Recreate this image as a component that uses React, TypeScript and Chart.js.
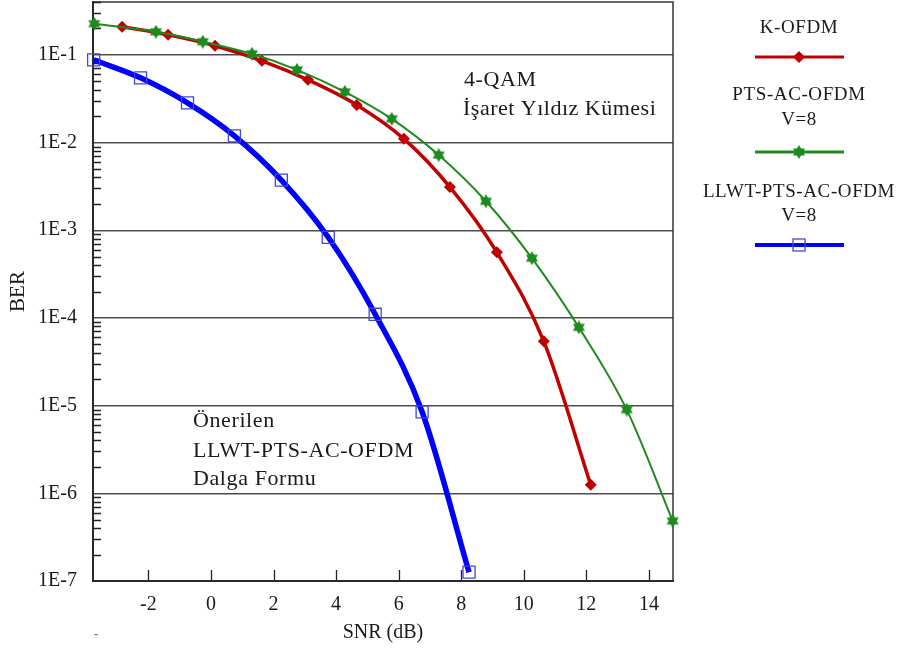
import React, { useEffect, useRef } from "react";
import { Chart, registerables } from "chart.js";

Chart.register(...registerables);

// ---- data ----
const kOfdmSnr = [-2.84, -1.37, 0.13, 1.63, 3.1, 4.66, 6.17, 7.64, 9.14, 10.64, 12.14];
const kOfdmBer = [0.209, 0.169, 0.127, 0.0853, 0.0518, 0.0268, 0.011, 0.0031, 5.6e-4, 5.4e-5, 1.25e-6];
const ptsSnr = [-3.73, -1.76, -0.26, 1.31, 2.75, 4.28, 5.78, 7.28, 8.79, 10.26, 11.76, 13.29, 14.76];
const ptsBer = [0.226, 0.183, 0.141, 0.1026, 0.0674, 0.0378, 0.0186, 0.0072, 0.00214, 4.8e-4, 7.8e-5, 9.0e-6, 4.85e-7];
const llwtSnr = [-3.75, -2.25, -0.75, 0.75, 2.25, 3.75, 5.25, 6.75, 8.25];
const llwtBer = [0.0877, 0.0546, 0.0283, 0.0119, 0.00373, 8.3e-4, 1.1e-4, 8.5e-6, 1.26e-7];

const xTicks = [-2, 0, 2, 4, 6, 8, 10, 12, 14];
const yDecades = [-7, -6, -5, -4, -3, -2, -1];
const xTitle = "SNR (dB)";
const yTitle = "BER";
const legendLabels = [["K-OFDM"], ["PTS-AC-OFDM", "V=8"], ["LLWT-PTS-AC-OFDM", "V=8"]];
const noteTop = ["4-QAM", "İşaret Yıldız Kümesi"];
const noteBottom = ["Önerilen", "LLWT-PTS-AC-OFDM", "Dalga Formu"];

const SERIF = '"Liberation Serif", "Times New Roman", serif';
const RED = "#c00000";
const GREEN = "#1f8a1f";
const BLUE = "#0000ff";
const BLUE_MARK = "#4545d6";
const TEXT = "#1a1a1a";

function makeStar(color: string, size: number) {
  const c = document.createElement("canvas");
  c.width = size;
  c.height = size;
  const g = c.getContext("2d")!;
  const r = size / 2;
  g.fillStyle = color;
  for (const rot of [-Math.PI / 2, Math.PI / 2]) {
    g.beginPath();
    for (let i = 0; i < 3; i++) {
      const a = rot + (i * 2 * Math.PI) / 3;
      const px = r + r * Math.cos(a);
      const py = r + r * Math.sin(a);
      if (i === 0) g.moveTo(px, py);
      else g.lineTo(px, py);
    }
    g.closePath();
    g.fill();
  }
  return c;
}

const isMajor = (v: number) => {
  const l = Math.log10(v);
  return Math.abs(l - Math.round(l)) < 1e-6;
};

function drawSpaced(ctx: CanvasRenderingContext2D, text: string, x: number, y: number, spacing: number) {
  (ctx as any).letterSpacing = spacing + "px";
  ctx.fillText(text, x, y);
  (ctx as any).letterSpacing = "0px";
}

export default function App() {
  const ref = useRef<HTMLCanvasElement>(null);
  useEffect(() => {
    const canvas = ref.current!;
    const star = makeStar(GREEN, 14);

    const decor = {
      id: "decor",
      beforeDatasetsDraw(chart: any) {
        const { ctx, chartArea: a, scales } = chart;
        const x = scales.x;
        const y = scales.y;
        ctx.save();
        ctx.strokeStyle = "#333";
        ctx.lineWidth = 1.5;
        ctx.strokeRect(a.left, a.top, a.right - a.left, a.bottom - a.top);
        ctx.strokeStyle = "#222";
        ctx.lineWidth = 1.3;
        ctx.beginPath();
        for (const t of y.ticks) {
          if (isMajor(t.value)) continue;
          const py = Math.round(y.getPixelForValue(t.value)) + 0.5;
          ctx.moveTo(a.left, py);
          ctx.lineTo(a.left + 8, py);
        }
        for (const t of x.ticks) {
          const px = Math.round(x.getPixelForValue(t.value)) + 0.5;
          ctx.moveTo(px, a.bottom);
          ctx.lineTo(px, a.bottom - 11);
        }
        ctx.stroke();

        // annotations
        ctx.fillStyle = TEXT;
        ctx.textAlign = "left";
        ctx.textBaseline = "alphabetic";
        ctx.font = `22px ${SERIF}`;
        drawSpaced(ctx, noteTop[0], 464, 86, 0.6);
        drawSpaced(ctx, noteTop[1], 463, 115, 0.5);
        drawSpaced(ctx, noteBottom[0], 193, 427, 0.6);
        drawSpaced(ctx, noteBottom[1], 193, 457, 0.6);
        drawSpaced(ctx, noteBottom[2], 193, 485, 0.6);

        // stray dash below axis
        ctx.fillStyle = "#777";
        ctx.font = `14px ${SERIF}`;
        ctx.textAlign = "center";
        ctx.fillText("-", 96, 638);
        ctx.restore();
      },
      afterDraw(chart: any) {
        const { ctx } = chart;
        const ds = chart.data.datasets;
        ctx.save();
        ctx.fillStyle = TEXT;
        ctx.textAlign = "center";
        ctx.textBaseline = "alphabetic";
        ctx.font = `19px ${SERIF}`;
        const cx = 799;
        const entries = [
          { lines: legendLabels[0], base: [33], lineY: 57, d: ds[2], w: 3 },
          { lines: legendLabels[1], base: [100, 125], lineY: 152, d: ds[1], w: 3 },
          { lines: legendLabels[2], base: [197, 221], lineY: 245, d: ds[0], w: 4 },
        ];
        entries.forEach((e, i) => {
          e.lines.forEach((t, j) => drawSpaced(ctx, t, cx, e.base[j], 0.6));
          ctx.strokeStyle = e.d.borderColor;
          ctx.lineWidth = e.w;
          ctx.beginPath();
          ctx.moveTo(755, e.lineY);
          ctx.lineTo(844, e.lineY);
          ctx.stroke();
          if (i === 0) {
            ctx.fillStyle = RED;
            ctx.beginPath();
            ctx.moveTo(cx - 6, e.lineY);
            ctx.lineTo(cx, e.lineY - 6);
            ctx.lineTo(cx + 6, e.lineY);
            ctx.lineTo(cx, e.lineY + 6);
            ctx.closePath();
            ctx.fill();
            ctx.fillStyle = TEXT;
          } else if (i === 1) {
            ctx.drawImage(star, cx - 7, e.lineY - 7);
          } else {
            ctx.strokeStyle = BLUE_MARK;
            ctx.lineWidth = 1.3;
            ctx.strokeRect(cx - 6, e.lineY - 6, 12, 12);
          }
        });
        ctx.restore();
      },
    };

    const chart = new Chart(canvas, {
      type: "line",
      data: {
        datasets: [
          {
            label: "LLWT-PTS-AC-OFDM V=8",
            data: llwtSnr.map((x, i) => ({ x, y: llwtBer[i] })),
            borderColor: BLUE,
            borderWidth: 5.5,
            pointStyle: "rect",
            pointRadius: 8.5,
            pointBorderColor: BLUE_MARK,
            pointBackgroundColor: "rgba(0,0,0,0)",
            pointBorderWidth: 1.3,
            cubicInterpolationMode: "monotone",
            clip: false,
          },
          {
            label: "PTS-AC-OFDM V=8",
            data: ptsSnr.map((x, i) => ({ x, y: ptsBer[i] })),
            borderColor: GREEN,
            borderWidth: 2,
            pointStyle: star,
            pointRadius: 7,
            cubicInterpolationMode: "monotone",
            clip: false,
          },
          {
            label: "K-OFDM",
            data: kOfdmSnr.map((x, i) => ({ x, y: kOfdmBer[i] })),
            borderColor: RED,
            borderWidth: 3.5,
            pointStyle: "rectRot",
            pointRadius: 6,
            pointBackgroundColor: RED,
            pointBorderColor: RED,
            pointBorderWidth: 0,
            cubicInterpolationMode: "monotone",
            clip: false,
          },
        ] as any,
      },
      options: {
        animation: false,
        responsive: false,
        devicePixelRatio: 1,
        events: [],
        layout: { autoPadding: false, padding: { top: 2, right: 226, left: 0, bottom: 0 } },
        plugins: { legend: { display: false }, tooltip: { enabled: false } },
        scales: {
          x: {
            type: "linear",
            min: -3.77,
            max: 14.77,
            afterBuildTicks: (s: any) => {
              s.ticks = xTicks.map((v) => ({ value: v }));
            },
            afterFit: (s: any) => {
              s.height = 69;
              s.paddingLeft = 0;
              s.paddingRight = 0;
            },
            grid: { drawOnChartArea: false, drawTicks: false },
            border: { display: true, color: "#111", width: 2 },
            ticks: {
              padding: 12,
              autoSkip: false,
              maxRotation: 0,
              color: TEXT,
              font: { family: SERIF, size: 20 },
              callback: (v: any) => String(v),
            },
            title: {
              display: true,
              text: xTitle,
              color: TEXT,
              font: { family: SERIF, size: 20 },
              padding: { top: 0, bottom: 5 },
            },
          },
          y: {
            type: "logarithmic",
            min: 1e-7,
            max: 0.4,
            afterBuildTicks: (s: any) => {
              const t: any[] = [];
              for (const e of yDecades) {
                for (let k = 1; k <= 9; k++) {
                  const v = k * Math.pow(10, e);
                  if (v <= 0.4 + 1e-9) t.push({ value: v });
                }
              }
              s.ticks = t;
            },
            afterFit: (s: any) => {
              s.width = 93;
              s.paddingTop = 0;
              s.paddingBottom = 0;
            },
            grid: {
              drawTicks: false,
              color: (c: any) => (c.tick && isMajor(c.tick.value) ? "#4d4d4d" : "rgba(0,0,0,0)"),
              lineWidth: 1.4,
            },
            border: { display: true, color: "#111", width: 2 },
            ticks: {
              padding: 16,
              autoSkip: false,
              color: TEXT,
              font: { family: SERIF, size: 20 },
              callback: (v: any) => (isMajor(Number(v)) ? `1E${Math.round(Math.log10(Number(v)))}` : ""),
            },
            title: {
              display: true,
              text: yTitle,
              color: TEXT,
              font: { family: SERIF, size: 21 },
              padding: { top: 6, bottom: 0 },
            },
          },
        },
      } as any,
      plugins: [decor],
    });
    return () => chart.destroy();
  }, []);

  return (
    <div style={{ position: "absolute", left: 0, top: 0, width: 899, height: 650, background: "#fff" }}>
      <canvas ref={ref} width={899} height={650} style={{ display: "block", width: 899, height: 650 }} />
    </div>
  );
}
